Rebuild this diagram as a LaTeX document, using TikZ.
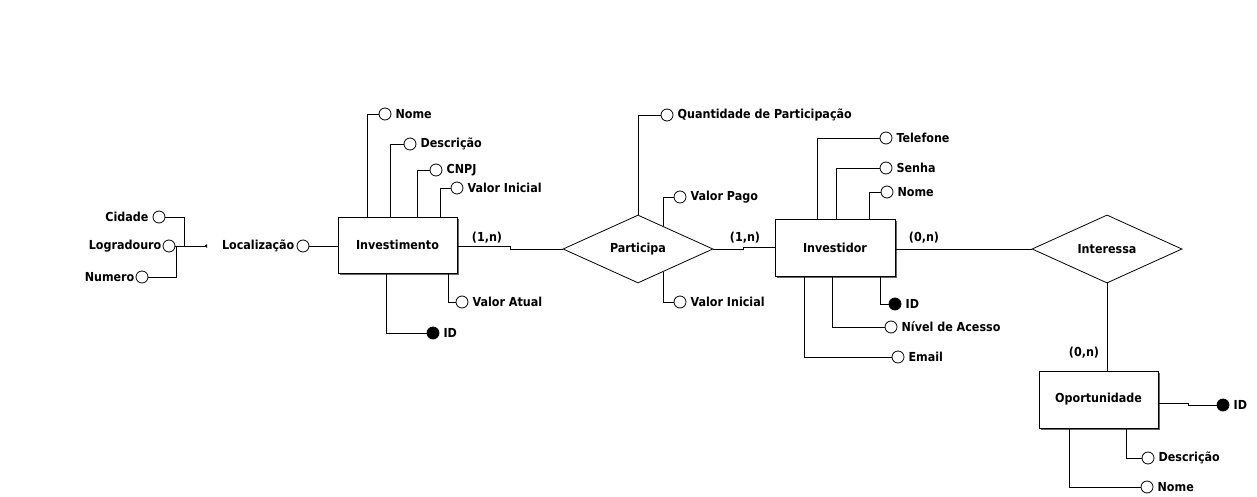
\documentclass[tikz,border=0pt]{standalone}
\usepackage{fontspec}
\setmainfont{DejaVu Sans Condensed}
\usetikzlibrary{shapes.geometric,shadows,calc,arrows.meta}
\begin{document}
\begin{tikzpicture}[x=1pt,y=-1pt,
  every node/.style={font=\bfseries\fontsize{12.4}{14}\selectfont},
  line/.style={draw=black,line width=0.8pt},
  entity/.style={rectangle,draw=black,line width=0.8pt,fill=white,inner sep=0pt,
    general shadow={shadow xshift=2.2pt,shadow yshift=-2.2pt,fill=black!60}},
  rel/.style={diamond,draw=black,line width=0.8pt,fill=white,inner sep=0pt,
    minimum width=150pt,minimum height=50pt},
  attr/.style={circle,draw=black,line width=0.8pt,fill=white,inner sep=0pt,minimum size=12pt},
  key/.style={circle,draw=black,line width=0.8pt,fill=black,inner sep=0pt,minimum size=12pt},
  lbl/.style={inner sep=0pt,label distance=4pt},
  card/.style={inner sep=0pt}]
\useasboundingbox (0,0) rectangle (1257,497);

% entities
\node[entity,minimum width=119pt,minimum height=56pt] (inv) at (397.5,245) {Investimento};
\node[entity,minimum width=120pt,minimum height=57pt] (invr) at (835,247.5) {Investidor};
\node[entity,minimum width=119pt,minimum height=57pt] (opo) at (1098.5,399.5) {Oportunidade};

% relationships
\node[rel] (part) at (638,249) {Participa};
\node[rel] (intr) at (1107,249) {Interessa};

% Investimento attributes
\node[attr,label={[lbl]right:Nome}] (nomeI) at (385,114) {};
\node[attr,label={[lbl]right:Descrição}] (descI) at (410,144) {};
\node[attr,label={[lbl]right:CNPJ}] (cnpj) at (436,170) {};
\node[attr,label={[lbl]right:Valor Inicial}] (vini) at (457,188) {};
\node[attr,label={[lbl]right:Valor Atual}] (vatual) at (462,302) {};
\node[key,label={[lbl]right:ID}] (idI) at (433,333) {};
\node[attr,label={[lbl,label distance=2pt]left:Localização}] (loc) at (303,246) {};
\node[attr,label={[lbl]left:Cidade}] (cid) at (159,217) {};
\node[attr,label={[lbl,label distance=1pt]left:Logradouro}] (logr) at (169,246) {};
\node[attr,label={[lbl,label distance=1pt]left:Numero}] (num) at (142,277) {};
\coordinate (j1) at (184,246);
\coordinate (j2) at (176,246);
\coordinate (tipc) at (207,246);

\draw[line] (nomeI.west) -| ([xshift=30pt]inv.north west);
\draw[line] (descI.west) -| ([xshift=53pt]inv.north west);
\draw[line] (cnpj.west) -| ([xshift=80pt]inv.north west);
\draw[line] (vini.west) -| ([xshift=103pt]inv.north west);
\draw[line] (vatual.west) -| ([xshift=111pt]inv.south west);
\draw[line] (idI.west) -| ([xshift=49pt]inv.south west);
\draw[line] (loc.east) -- (loc.east -| inv.west);
\draw[line] (cid.east) -| (j1);
\draw[line] (num.east) -| (j2);
\draw[line,-{Triangle[reversed,length=2.5pt,width=3.5pt]}] (logr.east) -- (tipc);

% Participa attributes
\node[attr,label={[lbl]right:Quantidade de Participação}] (qtd) at (667,115) {};
\node[attr,label={[lbl]right:Valor Pago}] (vpago) at (680,197) {};
\node[attr,label={[lbl]right:Valor Inicial}] (vinip) at (680,302) {};
\draw[line] (qtd.west) -| (part.north);
\draw[line] (vpago.west) -| ($(part.north)!0.333!(part.east)$);
\draw[line] (vinip.west) -| ($(part.south)!0.333!(part.east)$);

% Investidor attributes
\node[attr,label={[lbl]right:Telefone}] (tel) at (886,138) {};
\node[attr,label={[lbl]right:Senha}] (senha) at (886,168) {};
\node[attr,label={[lbl]right:Nome}] (nomeV) at (887,192) {};
\node[key,label={[lbl]right:ID}] (idV) at (895,304) {};
\node[attr,label={[lbl]right:Nível de Acesso}] (nivel) at (891,327) {};
\node[attr,label={[lbl]right:Email}] (email) at (898,357) {};
\draw[line] (tel.west) -| ([xshift=43pt]invr.north west);
\draw[line] (senha.west) -| ([xshift=62pt]invr.north west);
\draw[line] (nomeV.west) -| ([xshift=95pt]invr.north west);
\draw[line] (idV.west) -| ([xshift=106pt]invr.south west);
\draw[line] (nivel.west) -| ([xshift=58pt]invr.south west);
\draw[line] (email.west) -| ([xshift=30pt]invr.south west);

% Oportunidade attributes
\node[key,label={[lbl]right:ID}] (idO) at (1223,405) {};
\node[attr,label={[lbl]right:Descrição}] (descO) at (1148,458) {};
\node[attr,label={[lbl]right:Nome}] (nomeO) at (1147,487) {};
\draw[line] ([yshift=-3.5pt]opo.east) -- ++(30,0) |- (idO.west);
\draw[line] (descO.west) -| ([xshift=88pt]opo.south west);
\draw[line] (nomeO.west) -| ([xshift=31pt]opo.south west);

% relationship connectors
\draw[line] ([yshift=-1.5pt]inv.east) -- ++(53,0) |- (part.west);
\draw[line] (part.east) -- ++(30,0) |- (invr.west);
\draw[line] (invr.east |- intr.west) -- (intr.west);
\draw[line] (intr.south) -- (intr.south |- opo.north);

% cardinalities
\node[card] (c1) at (487,238) {(1,n)};
\node[card] (c2) at (745,238) {(1,n)};
\node[card] (c3) at (924,238) {(0,n)};
\node[card] (c4) at (1084,353) {(0,n)};
\end{tikzpicture}
\end{document}
